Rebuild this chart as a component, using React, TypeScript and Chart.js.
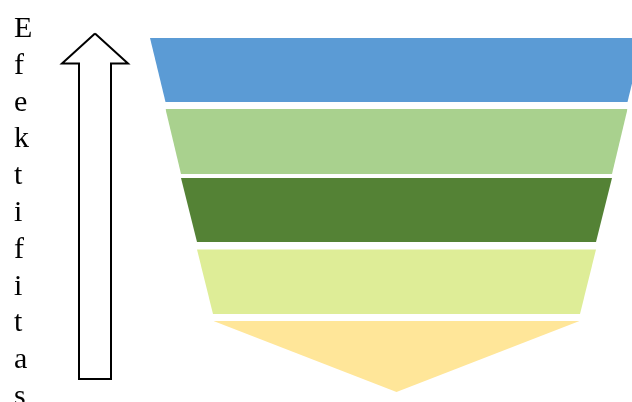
import React, { useEffect, useRef } from "react";
import { Chart, registerables } from "chart.js";

Chart.register(...registerables);

// Funnel stages (top = widest). Heights are measured upward from the funnel tip,
// widths are full widths of each band edge, centred on the funnel axis.
const stageNames = ["Tahap 1", "Tahap 2", "Tahap 3", "Tahap 4", "Tahap 5"];
const bandTop = [354, 283, 214, 142.5, 71];
const bandBottom = [290, 218, 150, 78, 0];
const topWidth = [493, 462, 431, 399, 366];
const bottomWidth = [462, 431, 399, 367, 0];
const bandColors = ["#5B9BD5", "#A9D18E", "#548235", "#DEED97", "#FFE699"];

// Upward arrow outline (same axis units as the funnel)
const arrowX = [-301.5, -268.5, -285.5, -285.5, -317.5, -317.5, -334.5, -301.5];
const arrowY = [358.5, 328.5, 328.5, 13, 13, 328.5, 328.5, 358.5];

const axisLabel = "Efektifitas";

export default function App() {
  const ref = useRef<HTMLCanvasElement | null>(null);

  useEffect(() => {
    if (!ref.current) return;
    const datasets: any[] = [];
    stageNames.forEach((name, i) => {
      const tw = topWidth[i] / 2;
      const bw = bottomWidth[i] / 2;
      datasets.push({
        label: name + " top",
        data: [
          { x: -tw, y: bandTop[i] },
          { x: tw, y: bandTop[i] },
        ],
        fill: "+1",
        backgroundColor: bandColors[i],
        borderColor: "rgba(0,0,0,0)",
        borderWidth: 0,
        pointRadius: 0,
      });
      datasets.push({
        label: name + " bottom",
        data: [
          { x: -tw, y: bandTop[i] },
          { x: -bw, y: bandBottom[i] },
          { x: bw, y: bandBottom[i] },
          { x: tw, y: bandTop[i] },
        ],
        fill: false,
        borderColor: "rgba(0,0,0,0)",
        borderWidth: 0,
        pointRadius: 0,
      });
    });
    datasets.push({
      label: "arrow",
      data: arrowX.map((x, i) => ({ x, y: arrowY[i] })),
      fill: false,
      borderColor: "#000000",
      borderWidth: 2,
      borderJoinStyle: "miter",
      borderCapStyle: "butt",
      pointRadius: 0,
    });

    const chart = new Chart(ref.current, {
      type: "line",
      data: { datasets },
      options: {
        animation: false,
        responsive: false,
        maintainAspectRatio: false,
        layout: { padding: 0 },
        plugins: { legend: { display: false }, tooltip: { enabled: false } },
        elements: { line: { tension: 0 } },
        scales: {
          x: { type: "linear", min: -396.5, max: 235.5, display: false },
          y: { type: "linear", min: -10, max: 392, display: false },
        },
      },
    });
    return () => chart.destroy();
  }, []);

  return (
    <div
      style={{
        position: "absolute",
        left: 0,
        top: 0,
        width: 632,
        height: 402,
        overflow: "hidden",
        background: "#ffffff",
      }}
    >
      <canvas ref={ref} width={632} height={402} style={{ position: "absolute", left: 0, top: 0 }} />
      <div
        style={{
          position: "absolute",
          left: 14,
          top: 9,
          fontFamily: "'Liberation Serif', 'Times New Roman', serif",
          fontSize: 30,
          lineHeight: "36.8px",
          color: "#000",
        }}
      >
        {axisLabel.split("").map((ch, i) => (
          <div key={i}>{ch}</div>
        ))}
      </div>
    </div>
  );
}
